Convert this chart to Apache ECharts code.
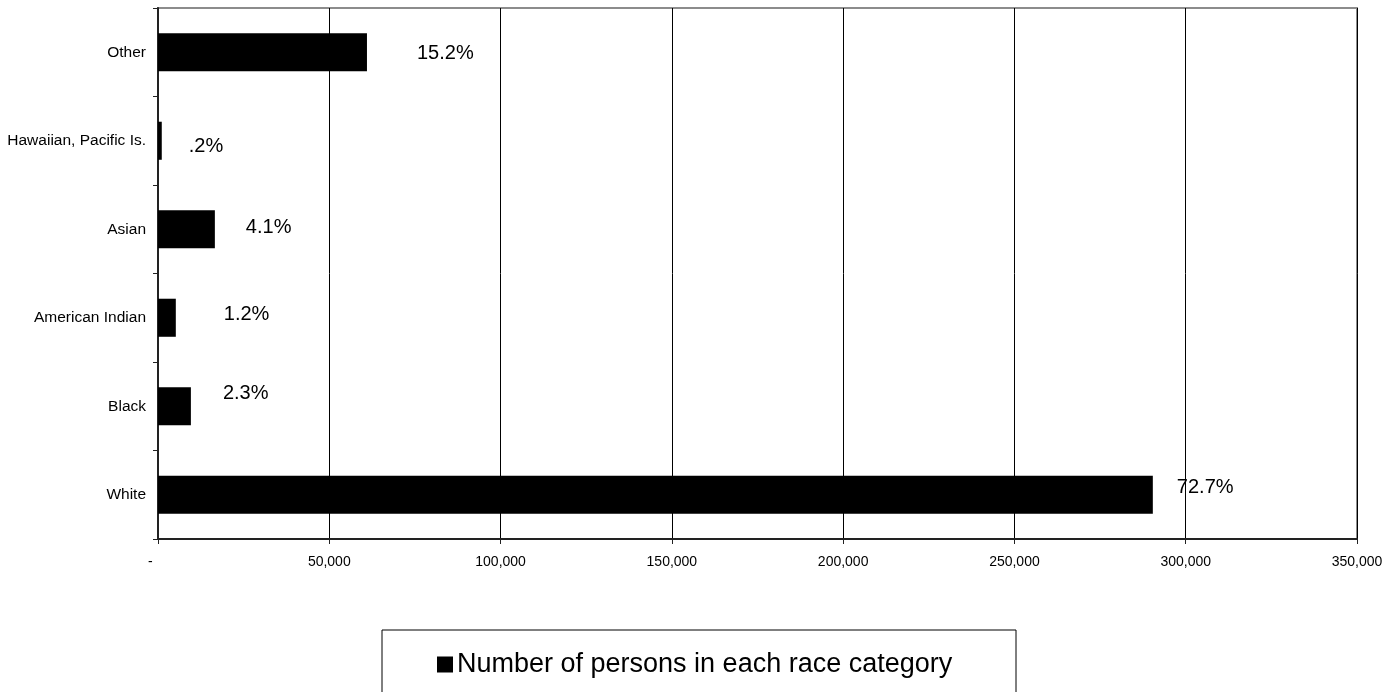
<!DOCTYPE html>
<html>
<head>
<meta charset="utf-8">
<script src="https://cdn.jsdelivr.net/npm/echarts@6/dist/echarts.min.js"></script>
<style>
html,body{margin:0;padding:0;background:#fff;}
#chart{width:1396px;height:692px;}
</style>
</head>
<body>
<div id="chart"></div>
<script>
// Data (bottom to top in the chart)
const categories = ['White', 'Black', 'American Indian', 'Asian', 'Hawaiian, Pacific Is.', 'Other'];
const persons = [290400, 9600, 5200, 16600, 1100, 61000];
const percentLabels = ['72.7%', '2.3%', '1.2%', '4.1%', '.2%', '15.2%'];
const xTicks = [0, 50000, 100000, 150000, 200000, 250000, 300000, 350000];
const seriesName = 'Number of persons in each race category';

// Styling: label nudges (px) as placed in the original
const labelNudges = [[24, -7], [32, -13], [48, -3], [31, -2], [27, 6], [50, 1]];

const FONT = '"Liberation Sans", Arial, sans-serif';

const chart = echarts.init(document.getElementById('chart'), null, {renderer: 'canvas'});

const fmt = v => v === 0 ? '-    ' : v.toLocaleString('en-US');

chart.setOption({
  animation: false,
  backgroundColor: '#fff',
  textStyle: {fontFamily: FONT, color: '#000'},
  grid: {
    left: 158, right: 39, top: 8, bottom: 153,
    show: true, borderColor: '#8c8c8c', borderWidth: 2, backgroundColor: 'transparent'
  },
  xAxis: {
    type: 'value',
    min: xTicks[0], max: xTicks[xTicks.length - 1], interval: xTicks[1] - xTicks[0],
    axisLine: {show: true, lineStyle: {color: '#222', width: 2}},
    axisTick: {show: true, length: 5, lineStyle: {color: '#222', width: 1}},
    axisLabel: {formatter: fmt, fontSize: 14, fontFamily: FONT, color: '#000', margin: 16},
    splitLine: {show: true, lineStyle: {color: '#000', width: 1}}
  },
  yAxis: {
    type: 'category',
    data: categories,
    axisLine: {show: true, lineStyle: {color: '#222', width: 2}},
    axisTick: {show: true, length: 5, alignWithLabel: false, lineStyle: {color: '#222', width: 1}},
    axisLabel: {fontSize: 15.5, fontFamily: FONT, color: '#000', margin: 12},
    splitLine: {show: false}
  },
  legend: {
    show: true,
    left: 437, top: 651,
    padding: 0,
    icon: 'rect',
    itemWidth: 16, itemHeight: 16, itemGap: 10,
    textStyle: {fontSize: 27, fontFamily: FONT, color: '#000', padding: [0, 0, 0, -1]},
    data: [seriesName]
  },
  graphic: [{
    type: 'rect',
    shape: {x: 382, y: 630, width: 634, height: 80},
    style: {fill: 'transparent', stroke: '#000', lineWidth: 1},
    z: -1
  }],
  series: [{
    name: seriesName,
    type: 'bar',
    barCategoryGap: '57%',
    itemStyle: {color: '#000'},
    data: persons.map((v, i) => ({
      value: v,
      label: {
        show: true,
        position: 'right',
        distance: 0,
        offset: labelNudges[i],
        formatter: percentLabels[i],
        fontSize: 20,
        fontFamily: FONT,
        color: '#000'
      }
    }))
  }]
});
</script>
</body>
</html>
